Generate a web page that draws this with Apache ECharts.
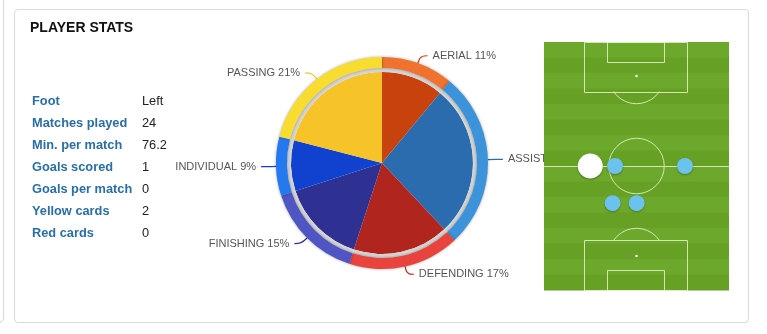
<!DOCTYPE html>
<html>
<head>
<meta charset="utf-8">
<script src="https://cdn.jsdelivr.net/npm/echarts@6/dist/echarts.min.js"></script>
<style>
  html, body { margin: 0; padding: 0; background: #fff; }
  #chart { width: 767px; height: 334px; }
</style>
</head>
<body>
<div id="chart"></div>
<script>
// pie data
const pieNames = ['AERIAL', 'ASSIST', 'DEFENDING', 'FINISHING', 'INDIVIDUAL', 'PASSING'];
const pieValues = [11, 27, 17, 15, 9, 21];
const innerColors = ['#c8420d', '#2a6cad', '#b1251f', '#2e3192', '#1042cf', '#f6c328'];
const outerColors = ['#f0722f', '#3d93da', '#e8443d', '#4f56c3', '#2479ef', '#f8dc2f'];

// stats table
const statLabels = ['Foot', 'Matches played', 'Min. per match', 'Goals scored', 'Goals per match', 'Yellow cards', 'Red cards'];
const statValues = ['Left', '24', '76.2', '1', '0', '2', '0'];

// positions on pitch (0-100 across, 0-100 down)
const mainPosition = [[25, 50]];
const otherPositions = [[38.4, 50], [76.2, 50], [37.1, 65], [50.1, 65]];

const chart = echarts.init(document.getElementById('chart'));

const font = 'Liberation Sans, Arial, sans-serif';

let statText = [];
statLabels.forEach((s, i) => {
  statText.push({
    type: 'text', left: 32, top: 95 + i * 22,
    style: { text: s, fill: '#2b6ea3', font: 'bold 12.8px ' + font }
  });
  statText.push({
    type: 'text', left: 142, top: 95 + i * 22,
    style: { text: statValues[i], fill: '#222', font: '12.8px ' + font }
  });
});

function renderPitch(params, api) {
  const cs = params.coordSys;
  const children = [];
  const n = 16;
  const h = cs.height / n;
  for (let i = 0; i < n; i++) {
    children.push({
      type: 'rect',
      shape: { x: cs.x, y: cs.y + i * h, width: cs.width, height: h + 0.5 },
      style: { fill: i % 2 ? '#66a126' : '#6ca82b' }
    });
  }
  const line = { stroke: 'rgba(230,242,200,0.85)', lineWidth: 1, fill: null };
  const rect = (x1, y1, x2, y2) => {
    const a = api.coord([x1, y1]), b = api.coord([x2, y2]);
    return {
      type: 'rect',
      shape: { x: Math.round(a[0]) + 0.5, y: Math.round(Math.min(a[1], b[1])) + 0.5,
               width: Math.round(b[0] - a[0]), height: Math.round(Math.abs(b[1] - a[1])) },
      style: line
    };
  };
  const r = api.size([15, 0])[0];
  // boxes
  children.push(rect(21.6, 0, 77.3, 20));
  children.push(rect(34, 0, 65, 8));
  children.push(rect(21.6, 80, 77.3, 100));
  children.push(rect(34, 92, 65, 100));
  // halfway line
  const h1 = api.coord([0, 50]), h2 = api.coord([100, 50]);
  children.push({ type: 'line', shape: { x1: h1[0], y1: Math.round(h1[1]) + 0.5, x2: h2[0], y2: Math.round(h2[1]) + 0.5 }, style: line });
  // centre circle
  const c = api.coord([50, 50]);
  children.push({ type: 'circle', shape: { cx: c[0], cy: c[1], r: r }, style: line });
  // spots and arcs
  [[13.7, 20, 1], [86.3, 80, -1]].forEach(([sy, by, dir]) => {
    const s = api.coord([50, sy]);
    const b = api.coord([50, by]);
    children.push({ type: 'circle', shape: { cx: s[0], cy: s[1], r: 1.3 }, style: { fill: '#eef5d8' } });
    const a = Math.asin(Math.min(1, Math.abs(b[1] - s[1]) / r));
    children.push({
      type: 'arc',
      shape: dir > 0
        ? { cx: s[0], cy: s[1], r: r, startAngle: a, endAngle: Math.PI - a, clockwise: true }
        : { cx: s[0], cy: s[1], r: r, startAngle: Math.PI + a, endAngle: 2 * Math.PI - a, clockwise: true },
      style: line
    });
  });
  return { type: 'group', children: children };
}

chart.setOption({
  animation: false,
  textStyle: { fontFamily: font },
  graphic: [
    { type: 'rect', shape: { x: 14.5, y: 9.5, width: 734, height: 313, r: 4 },
      style: { fill: '#fff', stroke: '#dcdcdc', lineWidth: 1.2 }, z: -10 },
    { type: 'rect', shape: { x: -20, y: -10, width: 23.5, height: 332, r: 4 },
      style: { fill: '#fff', stroke: '#dcdcdc', lineWidth: 1.2 }, z: -10 },
    { type: 'text', left: 30, top: 21,
      style: { text: 'PLAYER STATS', fill: '#111', font: 'bold 14px ' + font } }
  ].concat(statText),
  grid: { left: 544, top: 42, width: 185, height: 248 },
  xAxis: { type: 'value', min: 0, max: 100, show: false },
  yAxis: { type: 'value', min: 0, max: 100, inverse: true, show: false },
  series: [
    {
      type: 'pie', center: [382, 163], radius: [0, 91], startAngle: 90,
      silent: true, label: { show: false }, labelLine: { show: false },
      data: pieNames.map((n, i) => ({ name: n, value: pieValues[i], itemStyle: { color: innerColors[i] } }))
    },
    {
      type: 'pie', center: [382, 163], radius: [91, 95], startAngle: 90,
      silent: true, label: { show: false }, labelLine: { show: false },
      itemStyle: { color: '#d4d4d4' },
      data: pieNames.map((n, i) => ({ name: n, value: pieValues[i] }))
    },
    {
      type: 'pie', center: [382, 163], radius: [95, 106], startAngle: 90,
      silent: true, avoidLabelOverlap: false,
      itemStyle: { shadowBlur: 3, shadowColor: 'rgba(0,0,0,0.35)' },
      label: { show: true, formatter: '{b} {d}%', color: '#555', fontSize: 11, fontFamily: font },
      labelLine: { show: true, length: 8, length2: 7, smooth: 0.4, lineStyle: { width: 1.2 } },
      data: pieNames.map((n, i) => ({
        name: n, value: pieValues[i],
        itemStyle: { color: outerColors[i] },
        labelLine: { lineStyle: { color: innerColors[i] } }
      }))
    },
    {
      type: 'custom', renderItem: renderPitch, data: [[0, 0]], z: 10, silent: true
    },
    {
      type: 'scatter', data: otherPositions, symbolSize: 16, z: 11, silent: true,
      itemStyle: { color: '#6cc2ee', opacity: 1, shadowBlur: 2, shadowOffsetY: 1, shadowColor: 'rgba(0,0,0,0.3)' }
    },
    {
      type: 'scatter', data: mainPosition, symbolSize: 25, z: 12, silent: true,
      itemStyle: { color: '#ffffff', opacity: 1, shadowBlur: 2, shadowOffsetY: 1, shadowColor: 'rgba(0,0,0,0.3)' }
    }
  ]
});
</script>
</body>
</html>
